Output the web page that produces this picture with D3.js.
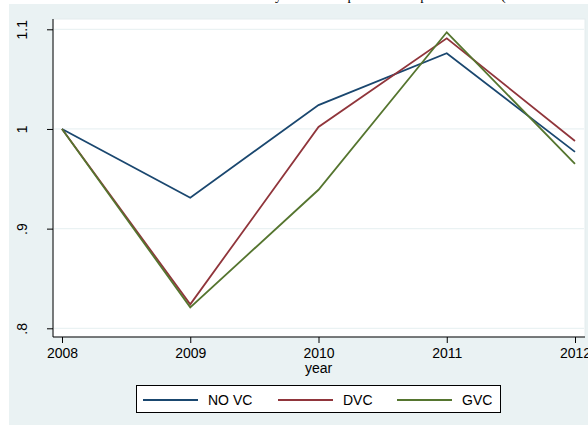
<!DOCTYPE html>
<html>
<head>
<meta charset="utf-8">
<script src="https://cdn.jsdelivr.net/npm/d3@7"></script>
<style>
  html, body { margin: 0; padding: 0; background: #ffffff; }
  svg { display: block; }
</style>
</head>
<body>
<svg id="chart" width="588" height="428"></svg>
<script>
// Index values, 2008 = 1
const years = [2008, 2009, 2010, 2011, 2012];
const noVC = [1.000, 0.931, 1.024, 1.076, 0.977];
const dVC  = [1.000, 0.824, 1.002, 1.091, 0.988];
const gVC  = [1.000, 0.821, 0.939, 1.097, 0.965];

const seriesNames = ["NO VC", "DVC", "GVC"];
const seriesColors = ["#1a476f", "#90353b", "#55752f"];
const yTicks = [0.8, 0.9, 1.0, 1.1];
const yTickLabels = [".8", ".9", "1", "1.1"];
const xTitle = "year";
const chartTitle = "Turnover by VC status: per firm and per cent of all (relative to 2008 level)";

const svg = d3.select("#chart");
const W = 588, H = 428;

// graph region and plot region
const graph = { x: 9, y: 4, w: W - 9, h: 421 };
const plot = { left: 53, top: 19, right: 585, bottom: 337 };

svg.append("rect")
  .attr("x", graph.x).attr("y", graph.y)
  .attr("width", graph.w).attr("height", graph.h)
  .attr("fill", "#eaf2f3");

// title sits mostly above the top edge
svg.append("text")
  .attr("x", 213).attr("y", 0)
  .attr("font-family", "'Liberation Serif', 'Times New Roman', serif")
  .attr("font-size", 14)
  .attr("fill", "#000")
  .text(chartTitle);

svg.append("rect")
  .attr("x", plot.left).attr("y", plot.top)
  .attr("width", plot.right - plot.left).attr("height", plot.bottom - plot.top)
  .attr("fill", "#ffffff")
  .attr("stroke", "#e4ecee").attr("stroke-width", 1);

const x = d3.scaleLinear().domain([2008, 2012]).range([62, 575]);
const y = d3.scaleLinear().domain([0.8, 1.1]).range([328.3, 29.3]);

// horizontal gridlines
svg.append("g")
  .selectAll("line")
  .data(yTicks)
  .join("line")
  .attr("x1", plot.left + 1).attr("x2", plot.right - 1)
  .attr("y1", d => y(d)).attr("y2", d => y(d))
  .attr("stroke", "#eaf2f3").attr("stroke-width", 1.2);

// series lines
const seriesData = [noVC, dVC, gVC];
const line = d3.line()
  .x((d, i) => x(years[i]))
  .y(d => y(d));

svg.append("g")
  .selectAll("path")
  .data(seriesData)
  .join("path")
  .attr("d", d => line(d))
  .attr("fill", "none")
  .attr("stroke", (d, i) => seriesColors[i])
  .attr("stroke-width", 1.8)
  .attr("stroke-linejoin", "miter");

const fontSans = "'Liberation Sans', Arial, Helvetica, sans-serif";

// y axis
const yAxis = d3.axisLeft(y)
  .tickValues(yTicks)
  .tickFormat((d, i) => yTickLabels[i])
  .tickSizeInner(6)
  .tickSizeOuter(0)
  .tickPadding(0);

const gy = svg.append("g")
  .attr("transform", `translate(${plot.left},0)`)
  .call(yAxis);
gy.select(".domain").remove();
gy.selectAll(".tick line").attr("stroke", "#000").attr("stroke-width", 1);
gy.selectAll(".tick text")
  .attr("font-family", fontSans)
  .attr("font-size", 14)
  .attr("fill", "#000")
  .attr("text-anchor", "middle")
  .attr("x", null).attr("dy", null)
  .attr("transform", "translate(-26,0) rotate(-90)");

svg.append("line")
  .attr("x1", plot.left).attr("x2", plot.left)
  .attr("y1", plot.top).attr("y2", plot.bottom)
  .attr("stroke", "#000").attr("stroke-width", 1);

// x axis
const xAxis = d3.axisBottom(x)
  .tickValues(years)
  .tickFormat(d3.format("d"))
  .tickSizeInner(6)
  .tickSizeOuter(0)
  .tickPadding(5);

const gx = svg.append("g")
  .attr("transform", `translate(0,${plot.bottom})`)
  .call(xAxis);
gx.select(".domain").remove();
gx.selectAll(".tick line").attr("stroke", "#000").attr("stroke-width", 1);
gx.selectAll(".tick text")
  .attr("font-family", fontSans)
  .attr("font-size", 14)
  .attr("fill", "#000");

svg.append("line")
  .attr("x1", plot.left).attr("x2", plot.right)
  .attr("y1", plot.bottom).attr("y2", plot.bottom)
  .attr("stroke", "#000").attr("stroke-width", 1);

svg.append("text")
  .attr("x", x(2010)).attr("y", 373)
  .attr("text-anchor", "middle")
  .attr("font-family", fontSans)
  .attr("font-size", 14)
  .attr("fill", "#000")
  .text(xTitle);

// legend
const legend = svg.append("g");
legend.append("rect")
  .attr("x", 136.5).attr("y", 385.5)
  .attr("width", 364).attr("height", 27)
  .attr("fill", "#ffffff")
  .attr("stroke", "#000").attr("stroke-width", 1);

const keyStarts = [143, 278, 397];
const items = legend.selectAll("g.key")
  .data(seriesNames)
  .join("g")
  .attr("class", "key")
  .attr("transform", (d, i) => `translate(${keyStarts[i]},400)`);

items.append("line")
  .attr("x1", 0).attr("x2", 55)
  .attr("y1", 0).attr("y2", 0)
  .attr("stroke", (d, i) => seriesColors[i])
  .attr("stroke-width", 1.8);

items.append("text")
  .attr("x", 65).attr("y", 5)
  .attr("font-family", fontSans)
  .attr("font-size", 14)
  .attr("fill", "#000")
  .text(d => d);
</script>
</body>
</html>
